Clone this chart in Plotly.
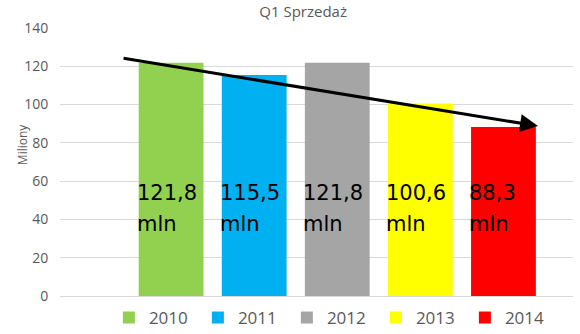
import plotly.graph_objects as go

years = ["2010", "2011", "2012", "2013", "2014"]
values = [121.8, 115.5, 121.8, 100.6, 88.3]
colors = ["#92D050", "#00B0F0", "#A5A5A5", "#FFFF00", "#FF0000"]
label_unit = "mln"
title = "Q1 Sprzedaż"
y_title = "Miliony"
y_ticks = [0, 20, 40, 60, 80, 100, 120, 140]
trend_start = (-0.59, 124.3)
trend_end = (4.416, 88.8)

fig = go.Figure()
for yr, v, c in zip(years, values, colors):
    fig.add_trace(go.Bar(x=[yr], y=[v], name=yr, marker_color=c,
                         marker_line_width=0, width=0.78))

annotations = []
for i, (yr, v) in enumerate(zip(years, values)):
    num = f"{v:.1f}".replace(".", ",")
    annotations.append(dict(x=i, y=54, xref="x", yref="y", text=num,
                            showarrow=False, xanchor="left", yanchor="middle",
                            xshift=-36, font=dict(family="DejaVu Sans", size=21, color="#000000")))
    annotations.append(dict(x=i, y=37.5, xref="x", yref="y", text=label_unit,
                            showarrow=False, xanchor="left", yanchor="middle",
                            xshift=-36, font=dict(family="DejaVu Sans", size=21, color="#000000")))

annotations.append(dict(x=trend_end[0], y=trend_end[1], ax=trend_start[0], ay=trend_start[1],
                        xref="x", yref="y", axref="x", ayref="y", text="",
                        showarrow=True, arrowhead=2, arrowsize=1.2, arrowwidth=3,
                        arrowcolor="#000000"))
annotations.append(dict(x=-0.074, y=0.563, xref="paper", yref="paper", text=y_title,
                        textangle=-90, showarrow=False, xanchor="center", yanchor="middle",
                        font=dict(family="Open Sans", size=12, color="#595959")))

fig.update_layout(
    width=580, height=334,
    margin=dict(l=60, r=7, t=28, b=38, autoexpand=False),
    paper_bgcolor="white", plot_bgcolor="white",
    barmode="overlay",
    title=dict(text=title, x=0.474, xanchor="center", xref="paper",
               y=0.964, yanchor="middle",
               font=dict(family="Open Sans", size=15, color="#595959")),
    xaxis=dict(type="category", range=[-1.337, 4.837], showticklabels=False,
               showgrid=False, zeroline=False, showline=False, ticks=""),
    yaxis=dict(range=[0, 140], tickvals=y_ticks, showgrid=True, gridcolor="#D9D9D9",
               gridwidth=1, zeroline=True, zerolinecolor="#D9D9D9", zerolinewidth=1,
               ticks="outside", ticklen=8, tickcolor="rgba(0,0,0,0)",
               tickfont=dict(family="Open Sans", size=14, color="#595959")),
    legend=dict(orientation="h", x=0.529, xanchor="center", y=0.048, yanchor="middle",
                yref="container",
                font=dict(family="Open Sans", size=17, color="#595959"),
                entrywidth=44, entrywidthmode="pixels", traceorder="normal"),
    annotations=annotations,
    showlegend=True,
)

fig.write_html("out.html")
